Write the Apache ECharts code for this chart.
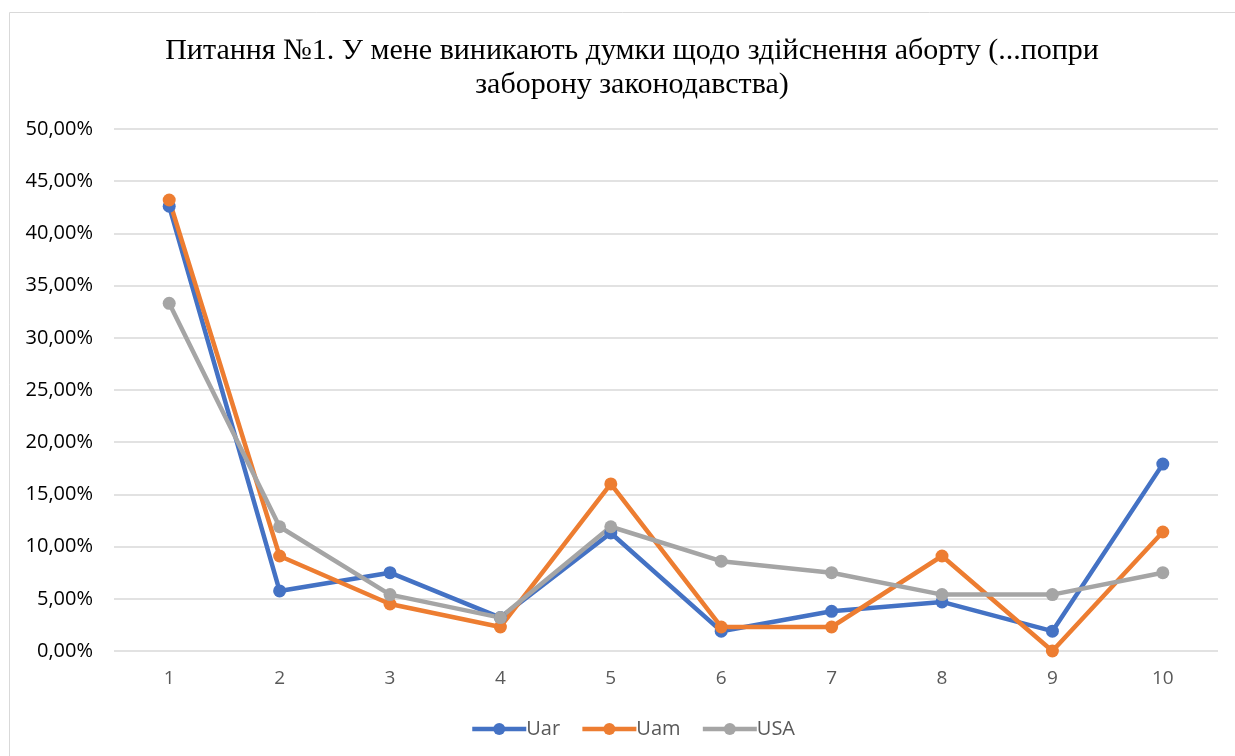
<!DOCTYPE html>
<html>
<head>
<meta charset="utf-8">
<script src="https://cdn.jsdelivr.net/npm/echarts@6/dist/echarts.min.js"></script>
<style>
  html, body { margin: 0; padding: 0; background: #fff; }
  #chart { width: 1235px; height: 756px; }
</style>
</head>
<body>
<div id="chart"></div>
<script>
// data
var categories = ["1", "2", "3", "4", "5", "6", "7", "8", "9", "10"];
var uar = [42.6, 5.75, 7.5, 3.2, 11.3, 1.9, 3.8, 4.7, 1.9, 17.9];
var uam = [43.2, 9.1, 4.5, 2.3, 16.0, 2.3, 2.3, 9.1, 0.0, 11.4];
var usa = [33.3, 11.9, 5.4, 3.2, 11.9, 8.6, 7.5, 5.4, 5.4, 7.5];
var titleText = "Питання №1. У мене виникають думки щодо здійснення аборту (...попри\nзаборону законодавства)";

var colors = ["#4472C4", "#ED7D31", "#A5A5A5"];

function pct(v) {
  return v.toFixed(2).replace(".", ",") + "%";
}

function makeSeries(name, data) {
  return {
    name: name,
    type: "line",
    data: data,
    symbol: "circle",
    symbolSize: 13,
    lineStyle: { width: 4.5 },
    emphasis: { disabled: true },
    z: 2
  };
}

var myChart = echarts.init(document.getElementById("chart"));
myChart.setOption({
  animation: false,
  color: colors,
  graphic: [{
    type: "rect",
    shape: { x: 9.5, y: 12.5, width: 1400, height: 900 },
    style: { fill: "none", stroke: "#d9d9d9", lineWidth: 1 },
    silent: true
  }],
  title: {
    text: titleText,
    left: 627,
    textAlign: "center",
    top: 29,
    textStyle: {
      fontFamily: "Liberation Serif",
      fontSize: 30,
      fontWeight: "normal",
      color: "#000",
      lineHeight: 34
    }
  },
  legend: {
    data: ["Uar", "Uam", "USA"],
    bottom: 12,
    left: 465,
    itemWidth: 54,
    itemHeight: 15,
    itemGap: 20,
    lineStyle: { width: 4.5 },
    textStyle: { fontFamily: "Open Sans", fontSize: 20, color: "#595959", padding: [0, 0, 0, -5] }
  },
  grid: {
    left: 114,
    right: 17,
    top: 129,
    bottom: 105
  },
  xAxis: {
    type: "category",
    data: categories,
    boundaryGap: true,
    axisLine: { show: false },
    axisTick: { show: false },
    axisLabel: {
      margin: 18,
      fontFamily: "Open Sans",
      fontSize: 19,
      color: "#595959"
    }
  },
  yAxis: {
    type: "value",
    min: 0,
    max: 50,
    interval: 5,
    axisLine: { show: false },
    axisTick: { show: false },
    splitLine: { lineStyle: { color: "#d9d9d9", width: 1.5 } },
    axisLabel: {
      margin: 21,
      fontFamily: "Open Sans",
      fontSize: 20,
      color: "#000",
      formatter: pct
    }
  },
  series: [
    makeSeries("Uar", uar),
    makeSeries("Uam", uam),
    makeSeries("USA", usa)
  ]
});
</script>
</body>
</html>
